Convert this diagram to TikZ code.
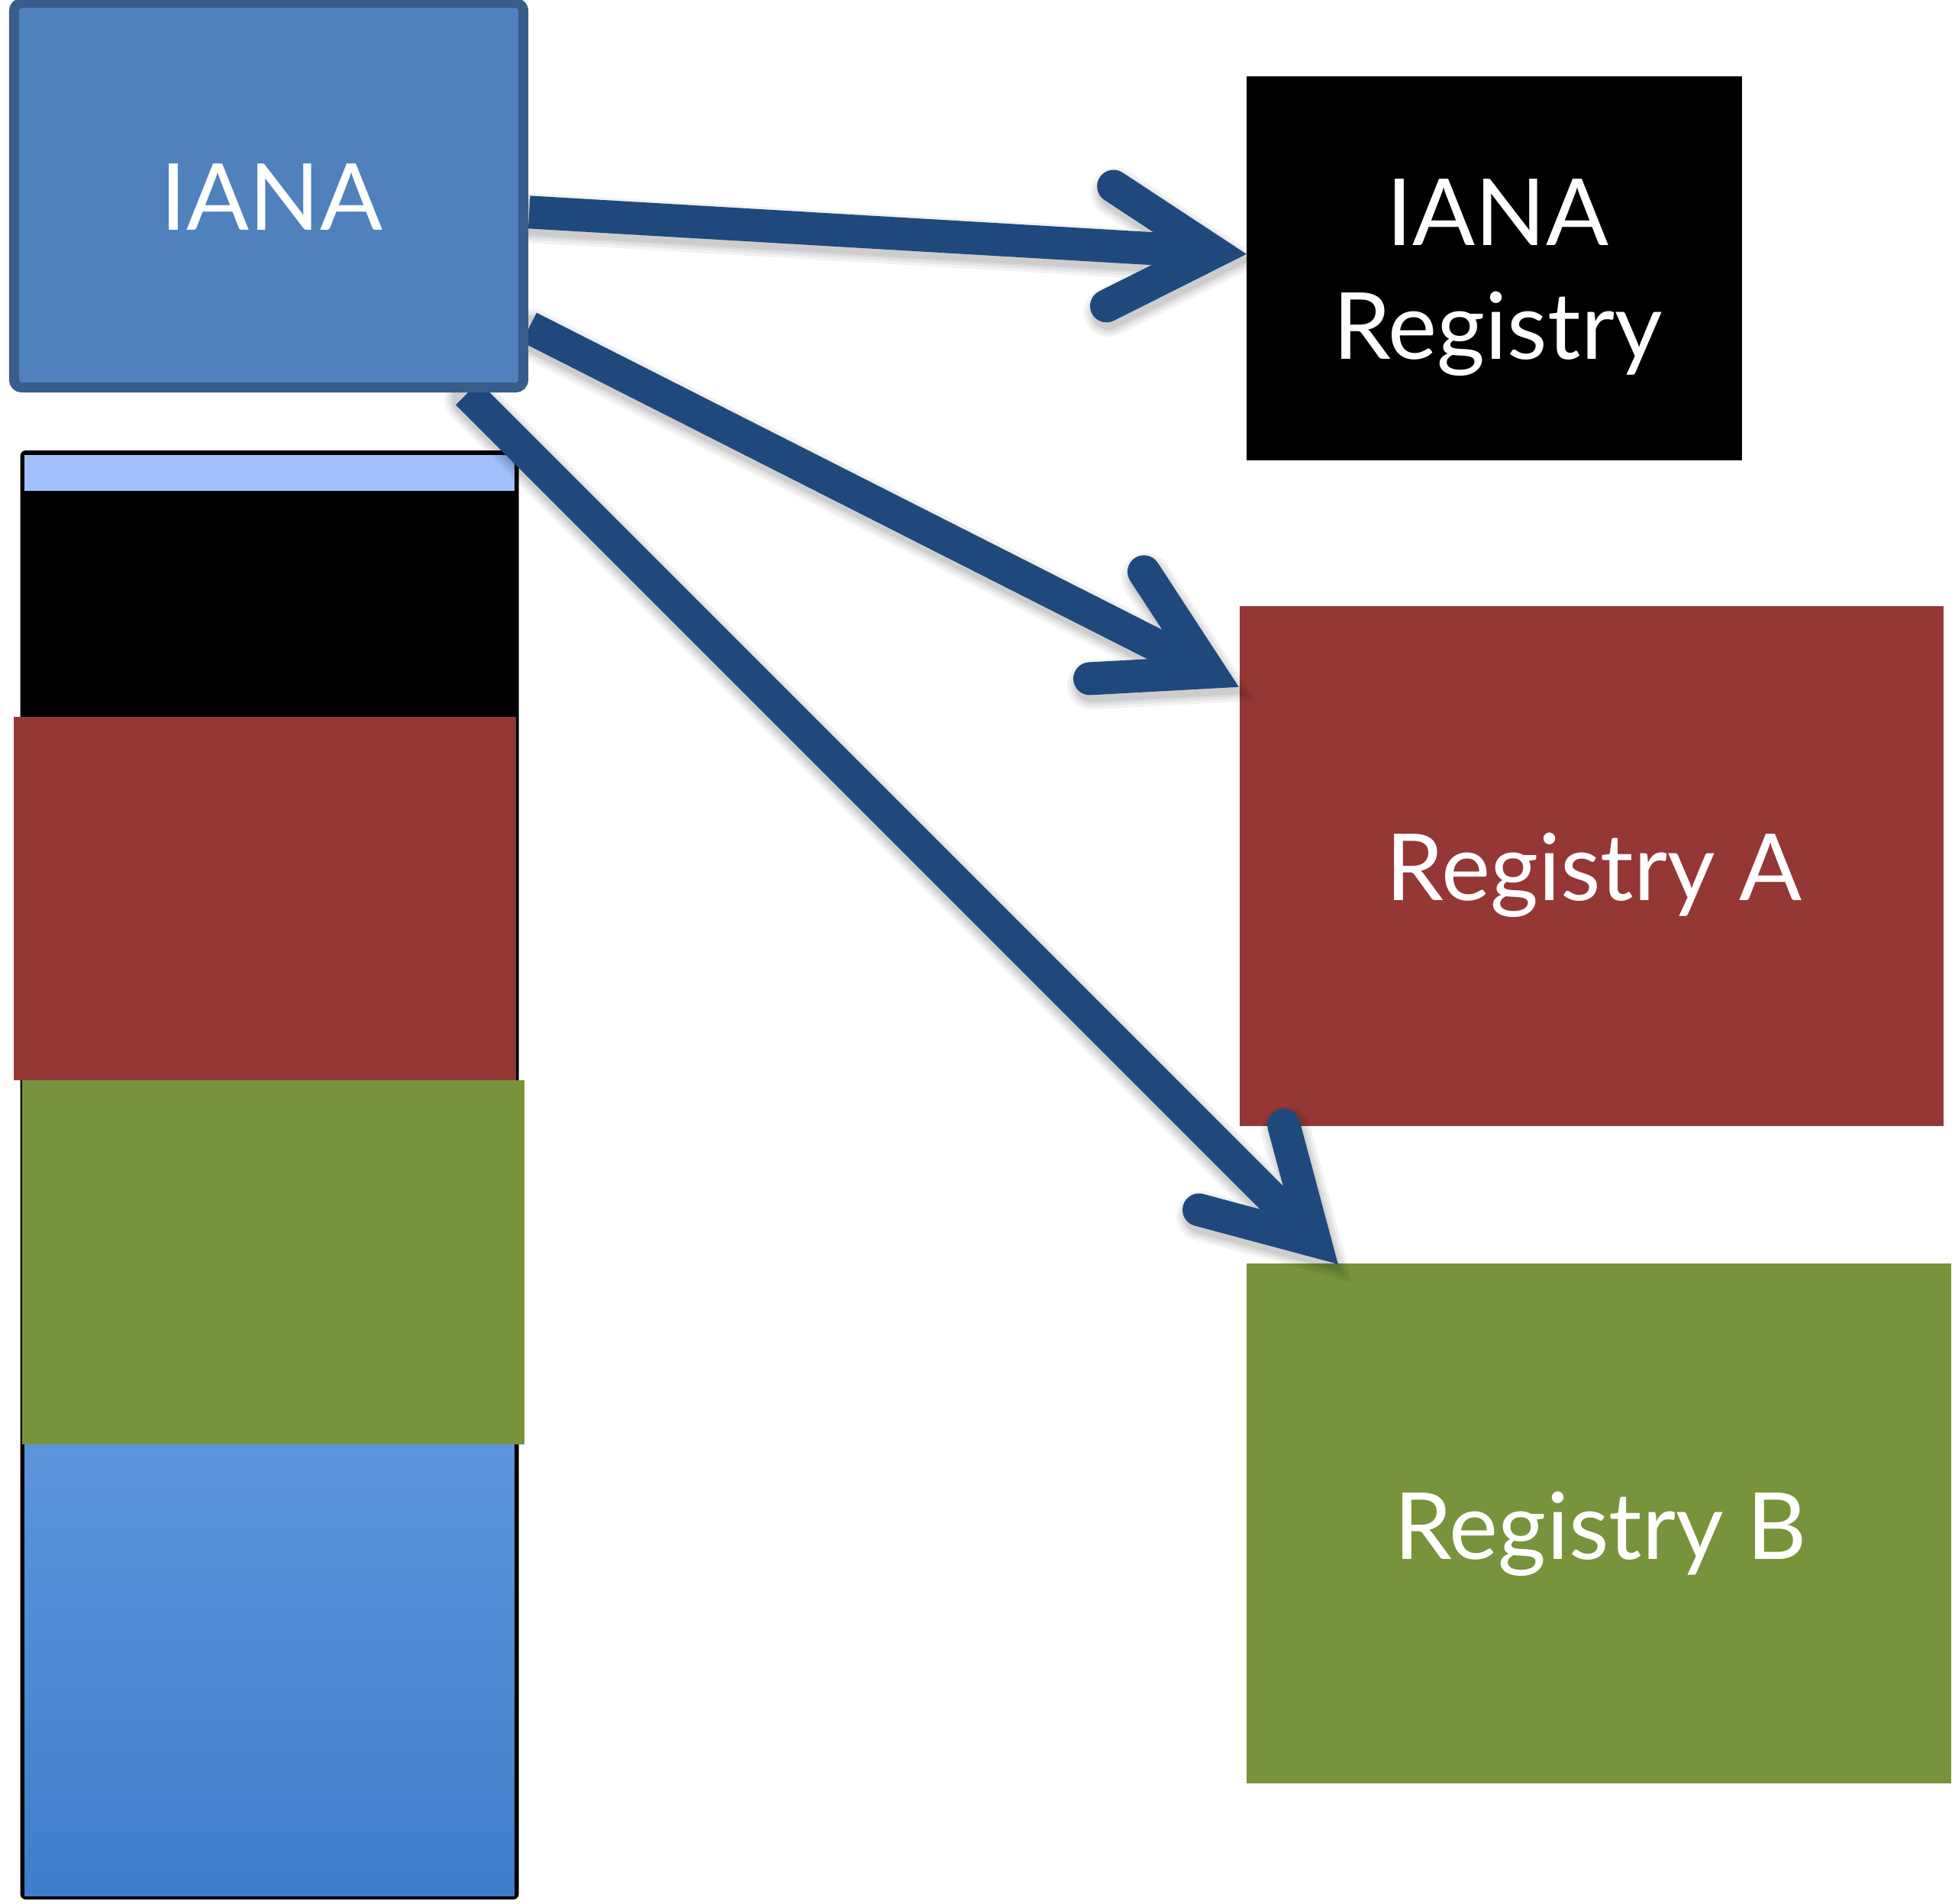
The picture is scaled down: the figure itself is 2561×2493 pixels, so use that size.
\documentclass[tikz,border=0pt]{standalone}
\usepackage{fontspec}
\setmainfont{Lato}
\usetikzlibrary{calc}
\definecolor{ianafill}{HTML}{4F81BD}
\definecolor{ianaborder}{HTML}{385D8A}
\definecolor{lightband}{HTML}{A0C1FC}
\definecolor{redband}{HTML}{953735}
\definecolor{greenband}{HTML}{77933C}
\definecolor{bluetop}{HTML}{5C95DC}
\definecolor{bluebot}{HTML}{3E7DCB}
\definecolor{arrowblue}{HTML}{1F497D}
\pgfdeclarelayer{fg}
\pgfsetlayers{main,fg}
\begin{document}
\begin{tikzpicture}[x=0.01cm,y=-0.01cm,
  lbl/.style={text=white, font=\fontsize{34.5}{42.4}\selectfont, align=center, inner sep=0pt},
  regbox/.style={draw=none, inner sep=0pt, outer sep=0pt},
  shaft/.style={draw=arrowblue, line width=0.43cm, line cap=butt},
  chevron/.style={draw=arrowblue, line width=0.43cm, line cap=round, line join=miter},
  dropshadow/.style={draw=black, line cap=round, line join=miter, opacity=0.05}]
\useasboundingbox (0,0) rectangle (2561,2493);
\fill[white] (0,0) rectangle (2561,2493);

% left column
\fill[black, rounded corners=2] (26.6,590) rectangle (679.6,2488);
\fill[lightband] (32,595.5) rectangle (673.6,643);
\shade[top color=bluetop, bottom color=bluebot] (32,1891.5) rectangle (673.6,2483);
\fill[redband] (18.4,939) rectangle (676,1415);
\fill[greenband] (29,1415) rectangle (686.5,1891.5);

% IANA box on top layer
\begin{pgfonlayer}{fg}
\node[regbox, draw=ianaborder, line width=0.13cm, fill=ianafill, rounded corners=3,
      minimum width=6.67cm, minimum height=5.035cm] (iana) at (352,255.75) {};
\node[lbl, anchor=base] (ianat) at (356,301) {IANA};
\end{pgfonlayer}

% right boxes
\node[regbox, fill=black, minimum width=6.49cm, minimum height=5.03cm] (ir) at (1957.5,351.5) {};
\node[regbox, fill=redband, minimum width=9.22cm, minimum height=6.81cm] (ra) at (2085,1134.5) {};
\node[regbox, fill=greenband, minimum width=9.23cm, minimum height=6.81cm] (rb) at (2094.5,1995.5) {};
\node[lbl, anchor=north] (irt) at (1962,234) {IANA\\Registry};
\node[lbl, anchor=base] (rat) at (2088,1179) {Registry A};
\node[lbl, anchor=base] (rbt) at (2097,2042) {Registry B};

% arrow geometry
\coordinate (s1) at ($(iana.north east)+(7.5,274)$);
\coordinate (s2) at ($(iana.north east)+(7.5,425)$);
\coordinate (s3) at ($(iana.south east)+(-73.5,7.5)$);
\coordinate (t1) at ($(ir.north west)+(0,233)$);
\coordinate (t2) at ($(ra.north west)+(-1,106)$);
\coordinate (t3) at ($(rb.north west)+(120,1)$);
\foreach \i in {1,2,3}{
  \coordinate (v\i) at ($(t\i)!0.43cm!(s\i)$);
  \coordinate (l\i) at ($(v\i)!1.57cm!30:(s\i)$);
  \coordinate (r\i) at ($(v\i)!1.57cm!-30:(s\i)$);
}

% shadows
\begin{scope}[transform canvas={xshift=0.03cm, yshift=-0.08cm}]
\foreach \w in {0.65cm,0.57cm,0.5cm,0.45cm}{
  \foreach \i in {1,2,3}{
    \draw[dropshadow, line width=\w] (s\i) -- (v\i) (l\i) -- (v\i) -- (r\i);
  }
}
\end{scope}

% arrows
\foreach \i in {1,2,3}{
  \draw[shaft] (s\i) -- (v\i);
  \draw[chevron] (l\i) -- (v\i) -- (r\i);
}
\end{tikzpicture}
\end{document}
